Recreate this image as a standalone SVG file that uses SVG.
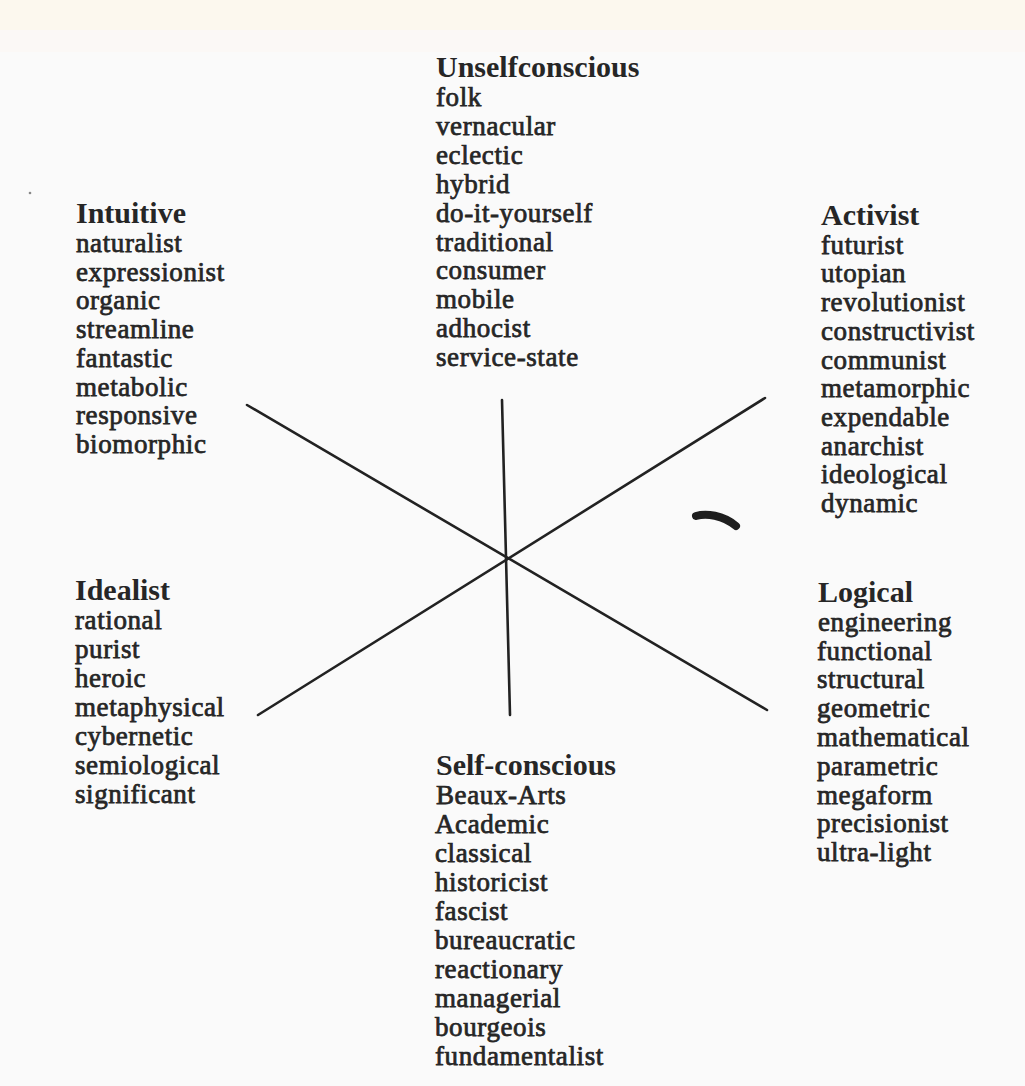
<svg xmlns="http://www.w3.org/2000/svg" width="1025" height="1086" viewBox="0 0 1025 1086">
<style>
text{font-family:"Liberation Serif","Times New Roman",serif;fill:#262626}
.h{font-size:30px;font-weight:bold}
.b{font-size:27px;letter-spacing:0.6px;stroke:#262626;stroke-width:0.75px}
.ln{stroke:#222;stroke-width:2.6;stroke-linecap:round;fill:none}
</style>
<rect x="0" y="0" width="1025" height="1086" fill="#fafafa"/>
<rect x="0" y="0" width="1025" height="30" fill="#fcf8ee"/>
<rect x="0" y="30" width="1025" height="22" fill="#fbf8f6"/>
<g id="connectors">
<line class="ln" x1="247" y1="405" x2="767" y2="710"/>
<line class="ln" x1="765" y1="398" x2="258" y2="715"/>
<line class="ln" x1="502" y1="400" x2="510" y2="715"/>
</g>
<g id="marks">
<path d="M696,516 C706,513 723,515 736,526" stroke="#1e1e1e" stroke-width="8" stroke-linecap="round" fill="none"/>
<circle cx="30" cy="193" r="1.3" fill="#888"/>
</g>
<g id="unselfconscious">
<text x="436" y="77"><tspan class="h">Unselfconscious</tspan><tspan class="b" x="436" y="106">folk</tspan><tspan class="b" x="436" dy="28.9">vernacular</tspan><tspan class="b" x="436" dy="28.9">eclectic</tspan><tspan class="b" x="436" dy="28.9">hybrid</tspan><tspan class="b" x="436" dy="28.9">do-it-yourself</tspan><tspan class="b" x="436" dy="28.9">traditional</tspan><tspan class="b" x="436" dy="28.9">consumer</tspan><tspan class="b" x="436" dy="28.9">mobile</tspan><tspan class="b" x="436" dy="28.9">adhocist</tspan><tspan class="b" x="436" dy="28.9">service-state</tspan></text>
</g>
<g id="intuitive">
<text x="76" y="223"><tspan class="h">Intuitive</tspan><tspan class="b" x="76" y="252">naturalist</tspan><tspan class="b" x="76" dy="28.7">expressionist</tspan><tspan class="b" x="76" dy="28.7">organic</tspan><tspan class="b" x="76" dy="28.7">streamline</tspan><tspan class="b" x="76" dy="28.7">fantastic</tspan><tspan class="b" x="76" dy="28.7">metabolic</tspan><tspan class="b" x="76" dy="28.7">responsive</tspan><tspan class="b" x="76" dy="28.7">biomorphic</tspan></text>
</g>
<g id="activist">
<text x="821" y="225"><tspan class="h">Activist</tspan><tspan class="b" x="821" y="253.7">futurist</tspan><tspan class="b" x="821" dy="28.7">utopian</tspan><tspan class="b" x="821" dy="28.7">revolutionist</tspan><tspan class="b" x="821" dy="28.7">constructivist</tspan><tspan class="b" x="821" dy="28.7">communist</tspan><tspan class="b" x="821" dy="28.7">metamorphic</tspan><tspan class="b" x="821" dy="28.7">expendable</tspan><tspan class="b" x="821" dy="28.7">anarchist</tspan><tspan class="b" x="821" dy="28.7">ideological</tspan><tspan class="b" x="821" dy="28.7">dynamic</tspan></text>
</g>
<g id="idealist">
<text x="75" y="600"><tspan class="h">Idealist</tspan><tspan class="b" x="75" y="629">rational</tspan><tspan class="b" x="75" dy="29">purist</tspan><tspan class="b" x="75" dy="29">heroic</tspan><tspan class="b" x="75" dy="29">metaphysical</tspan><tspan class="b" x="75" dy="29">cybernetic</tspan><tspan class="b" x="75" dy="29">semiological</tspan><tspan class="b" x="75" dy="29">significant</tspan></text>
</g>
<g id="self-conscious">
<text x="436" y="775"><tspan class="h">Self-conscious</tspan><tspan class="b" x="436" y="804">Beaux-Arts</tspan><tspan class="b" x="435" dy="29">Academic</tspan><tspan class="b" x="435" dy="29">classical</tspan><tspan class="b" x="435" dy="29">historicist</tspan><tspan class="b" x="435" dy="29">fascist</tspan><tspan class="b" x="435" dy="29">bureaucratic</tspan><tspan class="b" x="435" dy="29">reactionary</tspan><tspan class="b" x="435" dy="29">managerial</tspan><tspan class="b" x="435" dy="29">bourgeois</tspan><tspan class="b" x="435" dy="29">fundamentalist</tspan></text>
</g>
<g id="logical">
<text x="818" y="602"><tspan class="h">Logical</tspan><tspan class="b" x="818" y="630.8">engineering</tspan><tspan class="b" x="817" dy="28.8">functional</tspan><tspan class="b" x="817" dy="28.8">structural</tspan><tspan class="b" x="817" dy="28.8">geometric</tspan><tspan class="b" x="817" dy="28.8">mathematical</tspan><tspan class="b" x="817" dy="28.8">parametric</tspan><tspan class="b" x="817" dy="28.8">megaform</tspan><tspan class="b" x="817" dy="28.8">precisionist</tspan><tspan class="b" x="817" dy="28.8">ultra-light</tspan></text>
</g>
</svg>
